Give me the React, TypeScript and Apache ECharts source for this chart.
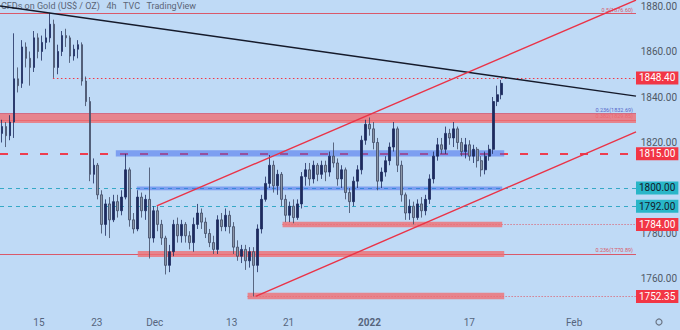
import React, { useEffect, useRef } from 'react';
import * as echarts from 'echarts';

// 4h-style candles, one per bar slot: [open, close, low, high]
const ohlc: number[][] = [
  [1824, 1827, 1820, 1830], [1827, 1823, 1818, 1829], [1823, 1829, 1821, 1832], [1829, 1848, 1822, 1868],
  [1848, 1845, 1842, 1853], [1846, 1862, 1844, 1865], [1862, 1857, 1853, 1864], [1857, 1853, 1845, 1860],
  [1853, 1866, 1851, 1869], [1866, 1860, 1857, 1868], [1860, 1864, 1856, 1867], [1864, 1866, 1861, 1870],
  [1866, 1872, 1864, 1877], [1872, 1853, 1848.4, 1874], [1853, 1860, 1850, 1863], [1860, 1867, 1858, 1869],
  [1867, 1866, 1862, 1870], [1866, 1858, 1855, 1867], [1858, 1861, 1856, 1863], [1861, 1863, 1857, 1865],
  [1863, 1847, 1845, 1864], [1847, 1838, 1836, 1849], [1838, 1806, 1803, 1840], [1806, 1810, 1802, 1813],
  [1810, 1797, 1795, 1811], [1797, 1784, 1780, 1799], [1784, 1793, 1779, 1795], [1793, 1786, 1778, 1796],
  [1786, 1794, 1785, 1797], [1794, 1790, 1787, 1797], [1790, 1796, 1788, 1799], [1796, 1808, 1795, 1815],
  [1808, 1786, 1783, 1809], [1786, 1782, 1780, 1789], [1782, 1796, 1781, 1799], [1796, 1790, 1787, 1798],
  [1790, 1795, 1786, 1797], [1795, 1778, 1769, 1809], [1778, 1790, 1776, 1792], [1790, 1784, 1781, 1792],
  [1784, 1778, 1775, 1786], [1778, 1766, 1762, 1779], [1766, 1772, 1763, 1775], [1772, 1784, 1770, 1786],
  [1784, 1779, 1776, 1787], [1779, 1784, 1776, 1786], [1784, 1779, 1776, 1785], [1779, 1776, 1773, 1781],
  [1776, 1784, 1772, 1787], [1784, 1789, 1782, 1793], [1789, 1785, 1782, 1791], [1785, 1780, 1778, 1787],
  [1780, 1776, 1774, 1782], [1776, 1773, 1771, 1779], [1773, 1786, 1771, 1788], [1786, 1783, 1781, 1789],
  [1783, 1788, 1781, 1791], [1788, 1783, 1780, 1790], [1783, 1774, 1771, 1785], [1774, 1770, 1768, 1777],
  [1770, 1773, 1767, 1775], [1773, 1768, 1764, 1775], [1768, 1772, 1765, 1774], [1772, 1766, 1752.35, 1774],
  [1766, 1782, 1763, 1784], [1782, 1795, 1780, 1797], [1795, 1802, 1794, 1805], [1802, 1810, 1800, 1814.5],
  [1810, 1801, 1798, 1812], [1801, 1806, 1797, 1808], [1806, 1795, 1792, 1807], [1795, 1788, 1785, 1797],
  [1788, 1792, 1785, 1794], [1792, 1787, 1784.5, 1795], [1787, 1793, 1786, 1795], [1793, 1805, 1791, 1807],
  [1805, 1808, 1801, 1811], [1808, 1804, 1801, 1811], [1804, 1810, 1802, 1812], [1810, 1806, 1803, 1811],
  [1806, 1810, 1804, 1812], [1810, 1807, 1803, 1812], [1807, 1814, 1805, 1816], [1814, 1811, 1809, 1820],
  [1811, 1804, 1801, 1813], [1804, 1808, 1800, 1810], [1808, 1798, 1795, 1809], [1798, 1794, 1789, 1800],
  [1794, 1803, 1792, 1805], [1803, 1808, 1800, 1810], [1808, 1821, 1806, 1823], [1821, 1828, 1819, 1830],
  [1828, 1826, 1823, 1831], [1826, 1820, 1817, 1829], [1820, 1803, 1799, 1822], [1803, 1807, 1800, 1809],
  [1807, 1812, 1805, 1814], [1812, 1818, 1810, 1820], [1818, 1826, 1816, 1829], [1826, 1810, 1807, 1827],
  [1810, 1797, 1794, 1812], [1797, 1789, 1786, 1798], [1789, 1792, 1786, 1795], [1792, 1787, 1784, 1794],
  [1787, 1793, 1786, 1795], [1793, 1790, 1787, 1796], [1790, 1795, 1788, 1797], [1795, 1804, 1793, 1806],
  [1804, 1814, 1802, 1816], [1814, 1819, 1812, 1822], [1819, 1817, 1815, 1822], [1817, 1824, 1815, 1827],
  [1824, 1822, 1819, 1826], [1822, 1826, 1818, 1829], [1826, 1820, 1817, 1827], [1820, 1816, 1814, 1822],
  [1816, 1819, 1813, 1822], [1819, 1814, 1812, 1821], [1814, 1817, 1811, 1819], [1817, 1812, 1809, 1818],
  [1812, 1808, 1805, 1814], [1808, 1814, 1806, 1816], [1814, 1817, 1812, 1819], [1817, 1838, 1815, 1840],
  [1838, 1841, 1836, 1845], [1841, 1846, 1839, 1847.5],
];

// x axis (bar-slot units)
const X_MIN = -0.5;
const X_MAX = 158.75;
const xTickPos = [9.25, 23.75, 38.25, 57.5, 71.75, 92, 117, 143.25];
const xTickLabels = ['15', '23', 'Dec', '13', '21', '2022', '17', 'Feb'];

// y axis (1800 is hidden behind its own price tag)
const Y_MIN = 1746.37;
const Y_MAX = 1882.64;
const yTicks = [1760, 1780, 1820, 1840, 1860, 1880];

// fibonacci retracement levels
const fibRatios = ['0.5', '0.236', '0.382', '0.236'];
const fibValues = [1876.6, 1832.69, 1829.85, 1770.89];

// price tags shown on the price scale
const tagValues = [1848.4, 1815.0, 1800.0, 1792.0, 1784.0, 1752.35];
const tagStarts = [12.75, X_MIN, X_MIN, X_MIN, 70.25, 61.5];

// support / resistance zones: [xStart, xEnd, low, high]
const redZones = [
  [X_MIN, X_MAX, 1828.6, 1833.0],
  [70.25, 125.25, 1782.7, 1785.2],
  [34, 125.75, 1769.7, 1772.3],
  [61.5, 125.75, 1751.1, 1754.0],
];
const blueZones = [
  [28.5, 125.75, 1813.8, 1816.6],
  [33.75, 125.25, 1799.0, 1800.7],
];

// trendlines: [[x1, y1], [x2, y2]]
const bearTrend = [[X_MIN, 1880.0], [X_MAX, 1840.4]];
const channelTop = [[38.75, 1792.1], [X_MAX, 1882.6]];
const channelBottom = [[63.5, 1752.35], [X_MAX, 1824.7]];

const FONT = 'Roboto, "Liberation Sans", Arial, sans-serif';
const RED = '#f23645';
const CYAN = '#29b6c8';

export default function App() {
  const ref = useRef<HTMLDivElement>(null);

  useEffect(() => {
    if (!ref.current) return;
    const chart = echarts.init(ref.current, undefined, { renderer: 'svg' });

    const tag = (text: string, bg: string, fg: string) => ({
      show: true,
      position: 'end',
      formatter: text,
      backgroundColor: bg,
      color: fg,
      padding: [1, 3, 1, 3],
      fontSize: 10,
      lineHeight: 11,
      fontFamily: FONT,
      distance: 0,
    });
    const fibLabel = (text: string, color: string) => ({
      show: true,
      position: 'insideEndTop',
      formatter: text,
      color,
      fontSize: 5.5,
      fontFamily: FONT,
      distance: [3, 1],
    });
    const hline = (y: number, x1: number, x2: number, lineStyle: any, label: any) => [
      { coord: [x1, y], lineStyle, label },
      { coord: [x2, y] },
    ];

    const fibColors = ['#d9596a', '#5566c8', '#d9505e', '#d9596a'];
    const fibLines = fibValues.map((v, i) =>
      hline(v, X_MIN, X_MAX, { color: fibColors[i], width: 1.1, type: 'solid' },
        fibLabel(`${fibRatios[i]}(${v.toFixed(2)})`, fibColors[i]))
    );

    const tagStyles: any[] = [
      { color: RED, width: 1.2, type: [1.5, 2.5] },
      { color: '#ee3e4f', width: 2, type: [8, 12] },
      { color: '#36a9c6', width: 1, type: [4, 4] },
      { color: '#36a9c6', width: 1, type: [4, 4] },
      { color: '#e0505e', width: 1, type: [1, 2] },
      { color: '#e0505e', width: 1, type: [1, 2] },
    ];
    const tagBg = [RED, RED, CYAN, CYAN, RED, RED];
    const tagFg = ['#ffffff', '#ffffff', '#14202b', '#14202b', '#ffffff', '#ffffff'];
    const tagLines = tagValues.map((v, i) =>
      hline(v, tagStarts[i], X_MAX, tagStyles[i], tag(v.toFixed(2), tagBg[i], tagFg[i]))
    );

    const areas = [
      ...redZones.map((z) => [
        { coord: [z[0], z[2]], itemStyle: { color: 'rgba(240,110,115,0.8)' } },
        { coord: [z[1], z[3]] },
      ]),
      ...blueZones.map((z) => [
        { coord: [z[0], z[2]], itemStyle: { color: 'rgba(60,100,235,0.5)' } },
        { coord: [z[1], z[3]] },
      ]),
    ];

    const trend = (data: number[][], color: string) => ({
      type: 'line',
      data,
      symbol: 'none',
      showSymbol: false,
      silent: true,
      z: 6,
      lineStyle: { color, width: 1.4 },
    });

    chart.setOption({
      animation: false,
      backgroundColor: '#bfdaf6',
      grid: { left: 0, right: 43, top: 0, bottom: 20 },
      xAxis: {
        type: 'value',
        min: X_MIN,
        max: X_MAX,
        axisLine: { show: false },
        axisTick: { show: false },
        splitLine: { show: false },
        axisLabel: {
          customValues: xTickPos,
          color: '#56657d',
          fontSize: 10,
          fontFamily: FONT,
          margin: 7,
          formatter: (v: number) => {
            let best = 0;
            xTickPos.forEach((p, i) => {
              if (Math.abs(p - v) < Math.abs(xTickPos[best] - v)) best = i;
            });
            const t = xTickLabels[best];
            return t === '2022' ? `{b|${t}}` : t;
          },
          rich: { b: { fontWeight: 'bold', color: '#56657d', fontSize: 10, fontFamily: FONT } },
        },
      },
      yAxis: {
        type: 'value',
        position: 'right',
        min: Y_MIN,
        max: Y_MAX,
        axisLine: { show: false },
        axisTick: { show: false },
        splitLine: { show: false },
        axisLabel: {
          customValues: yTicks,
          formatter: (v: number) => v.toFixed(2),
          align: 'right',
          margin: 41,
          color: '#4f5966',
          fontSize: 10,
          fontFamily: FONT,
        },
      },
      graphic: [
        {
          type: 'text',
          left: 1,
          top: 1,
          silent: true,
          style: {
            text: 'CFDs on Gold (US$ / OZ)   4h   TVC   TradingView',
            fontSize: 9,
            fontFamily: FONT,
            fill: '#5b6577',
          },
        },
        {
          type: 'circle',
          shape: { cx: 659, cy: 322, r: 3 },
          silent: true,
          style: { fill: 'none', stroke: '#6b7585', lineWidth: 1.2 },
        },
      ],
      series: [
        {
          type: 'candlestick',
          z: 5,
          barWidth: 2.2,
          silent: true,
          data: ohlc.map((d, i) => [i, d[0], d[1], d[2], d[3]]),
          itemStyle: {
            color: '#1d2b5e',
            color0: '#8c97a8',
            borderColor: '#1d2b5e',
            borderColor0: '#3d4763',
            borderWidth: 0.8,
          },
          markLine: {
            z: 1,
            silent: true,
            animation: false,
            symbol: ['none', 'none'],
            label: { show: false },
            data: [...fibLines, ...tagLines],
          },
          markArea: {
            z: 2,
            silent: true,
            animation: false,
            label: { show: false },
            data: areas,
          },
        },
        trend(bearTrend, '#151a2b'),
        trend(channelTop, '#ea3347'),
        trend(channelBottom, '#ea3347'),
      ],
    });

    return () => chart.dispose();
  }, []);

  return (
    <div
      ref={ref}
      style={{ position: 'absolute', left: 0, top: 0, width: 680, height: 330 }}
    />
  );
}
